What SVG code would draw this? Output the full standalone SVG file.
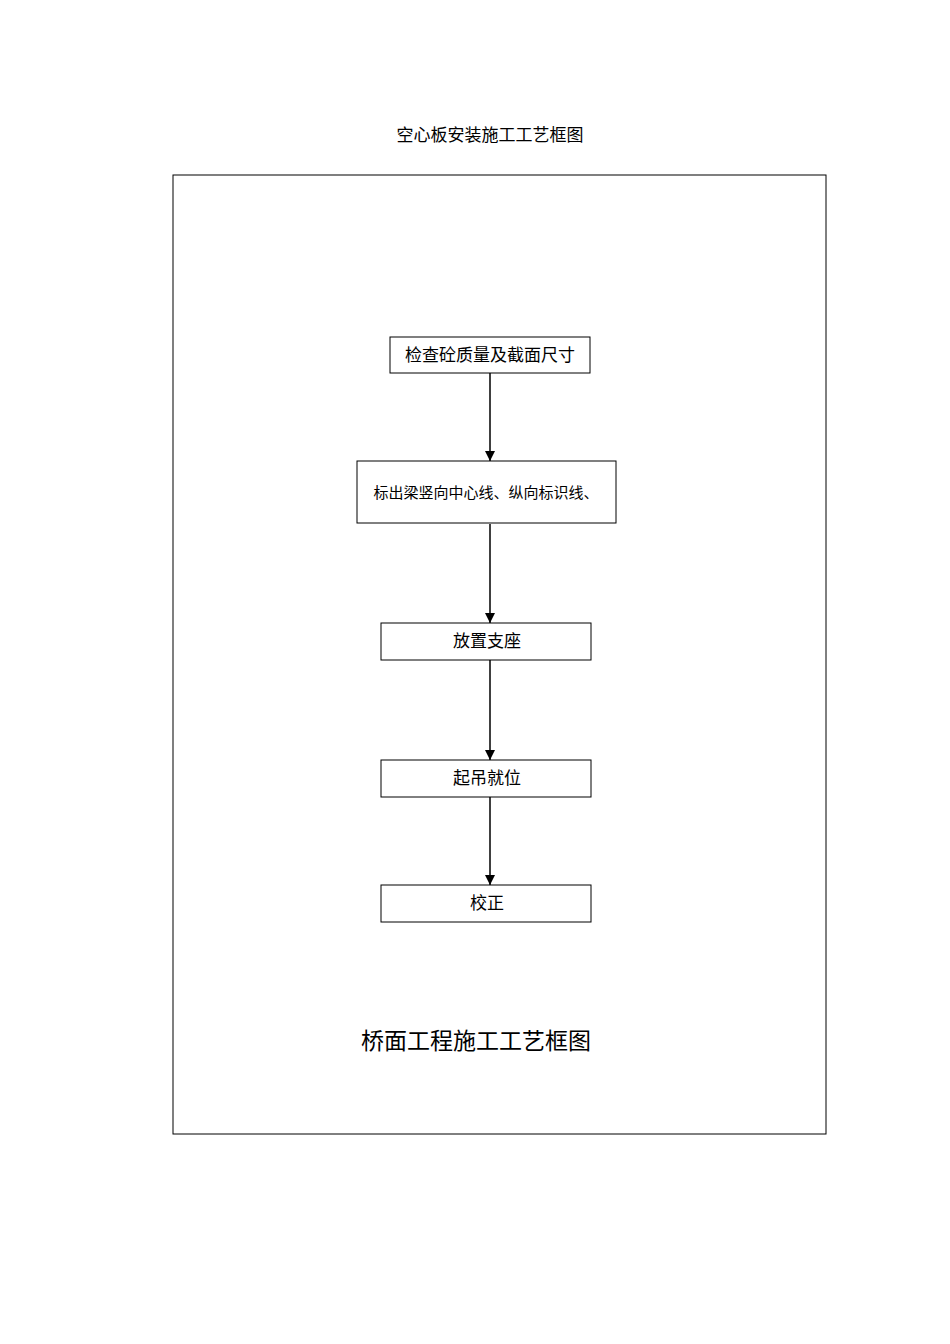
<svg xmlns="http://www.w3.org/2000/svg" width="950" height="1344" viewBox="0 0 950 1344">
<style>
.b{fill:#fff;stroke:#000;stroke-width:1}
.t{font-family:"Noto Sans CJK SC","Liberation Serif",serif;fill:#000;text-anchor:middle}
.c{stroke:#000;stroke-width:1.5;fill:none;marker-end:url(#a)}
</style>
<defs><marker id="a" markerWidth="10" markerHeight="10" refX="10" refY="5" orient="auto" markerUnits="userSpaceOnUse"><path d="M0,0 L10,5 L0,10 Z" fill="#000"/></marker></defs>
<rect width="950" height="1344" fill="#fff"/>
<text class="t" x="490" y="141" font-size="17">空心板安装施工工艺框图</text>
<rect x="173" y="175" width="653" height="959" fill="none" stroke="#000"/>
<g id="n1"><rect class="b" x="390" y="337" width="200" height="36"/><text class="t" x="490" y="361" font-size="17">检查砼质量及截面尺寸</text></g>
<g id="n2"><rect class="b" x="357" y="461" width="259" height="62" stroke-width="2"/><text class="t" x="486" y="498" font-size="15">标出梁竖向中心线、纵向标识线、</text></g>
<g id="n3"><rect class="b" x="381" y="623" width="210" height="37"/><text class="t" x="487" y="647" font-size="17">放置支座</text></g>
<g id="n4"><rect class="b" x="381" y="760" width="210" height="37"/><text class="t" x="487" y="784" font-size="17">起吊就位</text></g>
<g id="n5"><rect class="b" x="381" y="885" width="210" height="37"/><text class="t" x="487" y="909" font-size="17">校正</text></g>
<g id="connectors">
<line class="c" x1="490" y1="373" x2="490" y2="461"/>
<line class="c" x1="490" y1="524" x2="490" y2="623"/>
<line class="c" x1="490" y1="660" x2="490" y2="760"/>
<line class="c" x1="490" y1="797" x2="490" y2="885"/>
</g>
<text class="t" x="476" y="1049" font-size="23">桥面工程施工工艺框图</text>
</svg>
